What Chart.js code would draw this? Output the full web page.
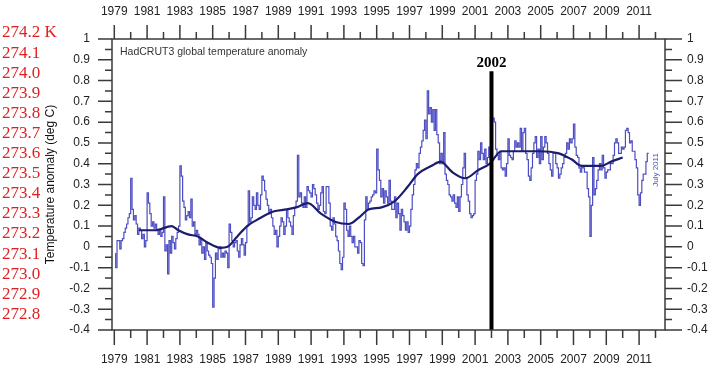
<!DOCTYPE html>
<html>
<head>
<meta charset="utf-8">
<script src="https://cdn.jsdelivr.net/npm/chart.js@4.4.1/dist/chart.umd.min.js"></script>
<style>
  html, body { margin: 0; padding: 0; background: #fff; }
  #wrap { position: relative; width: 714px; height: 372px; }
</style>
</head>
<body>
<div id="wrap"><canvas id="myChart" width="714" height="372"></canvas></div>
<script>
// monthly anomalies (deg C), Jan 1979 .. Jul 2011
const anomaly1979to1989 = [
  -0.03, -0.10, 0.03, 0.03, -0.01, 0.03, 0.04, 0.07, 0.09, 0.11, 0.14, 0.16,
  0.33, 0.18, 0.13, 0.15, 0.11, 0.06, 0.09, 0.08, 0.04, 0.06, 0.00, 0.03,
  0.26, 0.21, 0.16, 0.10, 0.12, 0.09, 0.11, 0.08, 0.06, 0.08, 0.05, 0.07,
  0.24, -0.02, 0.01, -0.13, 0.03, -0.03, 0.05, 0.02, -0.01, 0.04, 0.07, 0.10,
  0.39, 0.34, 0.22, 0.19, 0.13, 0.15, 0.17, 0.14, 0.23, 0.10, 0.12, 0.06,
  0.08, 0.06, 0.01, 0.04, -0.03, 0.00, -0.06, 0.02, -0.02, -0.04, -0.05, -0.08,
  -0.29, -0.15, -0.03, -0.06, -0.01, 0.00, -0.05, -0.03, -0.05, -0.02, -0.03, -0.10,
  0.11, 0.07, 0.03, 0.00, 0.02, 0.03, -0.02, -0.05, 0.01, 0.04, 0.01, -0.04,
  0.02, 0.10, 0.27, 0.12, 0.14, 0.24, 0.20, 0.18, 0.26, 0.20, 0.18, 0.25,
  0.34, 0.32, 0.27, 0.23, 0.20, 0.16, 0.18, 0.14, 0.10, 0.06, 0.08, 0.00,
  0.05, 0.10, 0.14, 0.12, 0.06, 0.10, 0.18, 0.14, 0.12, 0.10, 0.06, 0.15
]
const anomaly1990to2000 = [
  0.19, 0.22, 0.44, 0.24, 0.26, 0.21, 0.19, 0.24, 0.19, 0.29, 0.27, 0.26,
  0.24, 0.30, 0.28, 0.25, 0.21, 0.18, 0.20, 0.26, 0.29, 0.17, 0.16, 0.29,
  0.29, 0.21, 0.10, 0.08, 0.14, 0.11, 0.05, 0.03, -0.02, -0.08, -0.11, -0.05,
  0.21, 0.18, 0.08, 0.05, 0.10, 0.05, 0.02, 0.05, 0.00, 0.00, -0.03, 0.03,
  0.02, -0.08, -0.09, 0.13, 0.24, 0.18, 0.21, 0.22, 0.24, 0.25, 0.27, 0.26,
  0.47, 0.37, 0.32, 0.24, 0.28, 0.21, 0.27, 0.24, 0.21, 0.32, 0.22, 0.18,
  0.18, 0.24, 0.14, 0.21, 0.16, 0.08, 0.18, 0.15, 0.12, 0.08, 0.12, 0.07,
  0.10, 0.18, 0.25, 0.30, 0.37, 0.40, 0.38, 0.45, 0.48, 0.51, 0.56, 0.61,
  0.52, 0.75, 0.64, 0.67, 0.60, 0.66, 0.56, 0.66, 0.54, 0.50, 0.40, 0.45,
  0.40, 0.55, 0.35, 0.32, 0.30, 0.25, 0.24, 0.22, 0.25, 0.21, 0.19, 0.24,
  0.17, 0.24, 0.30, 0.38, 0.45, 0.33, 0.25, 0.22, 0.16, 0.14, 0.15, 0.16
]
const anomaly2001to2011 = [
  0.32, 0.35, 0.46, 0.42, 0.50, 0.45, 0.42, 0.47, 0.40, 0.43, 0.48, 0.42,
  0.61, 0.62, 0.60, 0.47, 0.44, 0.42, 0.46, 0.38, 0.37, 0.38, 0.34, 0.40,
  0.52, 0.44, 0.43, 0.42, 0.46, 0.51, 0.48, 0.50, 0.48, 0.57, 0.46, 0.55,
  0.57, 0.45, 0.42, 0.34, 0.32, 0.38, 0.45, 0.50, 0.53, 0.43, 0.47, 0.40,
  0.53, 0.42, 0.48, 0.53, 0.50, 0.45, 0.40, 0.37, 0.34, 0.45, 0.45, 0.40,
  0.38, 0.33, 0.35, 0.38, 0.40, 0.43, 0.45, 0.50, 0.47, 0.52, 0.50, 0.52,
  0.59, 0.48, 0.44, 0.43, 0.38, 0.36, 0.39, 0.38, 0.36, 0.36, 0.28, 0.24,
  0.05, 0.20, 0.43, 0.25, 0.28, 0.32, 0.37, 0.40, 0.37, 0.44, 0.38, 0.33,
  0.36, 0.37, 0.37, 0.40, 0.40, 0.44, 0.50, 0.52, 0.50, 0.45, 0.45, 0.48,
  0.47, 0.48, 0.56, 0.57, 0.55, 0.50, 0.51, 0.46, 0.46, 0.42, 0.38, 0.25,
  0.20, 0.26, 0.32, 0.35, 0.35, 0.41, 0.45
]

// smoothed curve, read at points along it
const smoothYears = [1980.5, 1981.5, 1982.5, 1982.9, 1983.5, 1984.1, 1984.7, 1985.5, 1985.9, 1986.5,
  1987.1, 1987.7, 1988.7, 1989.5, 1990.1, 1990.8, 1991.6, 1992.5, 1993.3, 1993.9,
  1994.5, 1995.3, 1996.1, 1996.9, 1997.5, 1998.35, 1998.9, 1999.6, 2000.4, 2001.2,
  2001.9, 2002.6, 2003.6, 2004.85, 2006.1, 2006.9, 2007.5, 2008.3, 2008.7, 2009.3, 2010.0]
const smoothValues = [0.08, 0.08, 0.10, 0.08, 0.06, 0.05, 0.02, -0.005, 0.0, 0.05,
  0.10, 0.13, 0.17, 0.18, 0.19, 0.21, 0.16, 0.12, 0.11, 0.14,
  0.18, 0.19, 0.22, 0.29, 0.35, 0.39, 0.41, 0.36, 0.33, 0.37,
  0.40, 0.46, 0.46, 0.46, 0.45, 0.42, 0.39, 0.39, 0.39, 0.41, 0.43]

const labelYears = [1979, 1981, 1983, 1985, 1987, 1989, 1991, 1993, 1995,
  1997, 1999, 2001, 2003, 2005, 2007, 2009, 2011]
const kelvinLabels = ['274.2 K', '274.1', '274.0', '273.9', '273.8', '273.7', '273.6', '273.5',
  '273.4', '273.3', '273.2', '273.1', '273.0', '272.9', '272.8']

const startYear = 1979
const markerYear = 2002
const markerTop = 0.845

const monthly = [...anomaly1979to1989, ...anomaly1990to2000, ...anomaly2001to2011]
  .map((v, i) => ({ x: startYear + (i + 1) / 12, y: v }))
const smooth = smoothYears.map((yr, i) => ({ x: yr, y: smoothValues[i] }))

const tickFont = { family: 'Liberation Sans, Arial, sans-serif', size: 12 }
const yearLabel = v => String(v)
const yLabel = v => String(Number(v.toFixed(1)))

const frame = {
  id: 'frame',
  afterDraw(chart) {
    const { ctx, chartArea: a, scales } = chart
    const x = scales.x, y = scales.y
    ctx.save()
    ctx.strokeStyle = '#3a3a3a'
    ctx.lineWidth = 1.5
    ctx.strokeRect(a.left, a.top, a.right - a.left, a.bottom - a.top)

    ctx.beginPath()
    const yt = y.ticks.map(t => t.value)
    yt.forEach((v, i) => {
      const p = y.getPixelForValue(v)
      ctx.moveTo(a.left - 14, p); ctx.lineTo(a.left, p)
      ctx.moveTo(a.right, p); ctx.lineTo(a.right + 17, p)
      if (i < yt.length - 1) {
        const m = y.getPixelForValue((v + yt[i + 1]) / 2)
        ctx.moveTo(a.left - 7, m); ctx.lineTo(a.left, m)
        ctx.moveTo(a.right, m); ctx.lineTo(a.right + 7, m)
      }
    })
    x.ticks.forEach(t => {
      const p = x.getPixelForValue(t.value)
      ctx.moveTo(p, a.top - 14); ctx.lineTo(p, a.top)
      ctx.moveTo(p, a.bottom); ctx.lineTo(p, a.bottom + 15)
      if (t.value + 1 <= x.max) {
        const m = x.getPixelForValue(t.value + 1)
        ctx.moveTo(m, a.top - 7); ctx.lineTo(m, a.top)
        ctx.moveTo(m, a.bottom); ctx.lineTo(m, a.bottom + 8)
      }
    })
    ctx.stroke()

    // caption inside the plot
    ctx.fillStyle = '#333'
    ctx.font = '10.5px Liberation Sans, Arial, sans-serif'
    ctx.textBaseline = 'middle'
    ctx.textAlign = 'left'
    ctx.fillText('HadCRUT3 global temperature anomaly', a.left + 8, a.top + 13)

    // 2002 label
    ctx.fillStyle = '#000'
    ctx.font = 'bold 15px Liberation Serif, Times New Roman, serif'
    ctx.textAlign = 'center'
    ctx.fillText(String(markerYear), x.getPixelForValue(markerYear), y.getPixelForValue(0.885))

    // July 2011 note
    ctx.save()
    ctx.translate(x.getPixelForValue(2012.0), y.getPixelForValue(0.37))
    ctx.rotate(-Math.PI / 2)
    ctx.fillStyle = '#4455bb'
    ctx.font = '8px Liberation Sans, Arial, sans-serif'
    ctx.fillText('July 2011', 0, 0)
    ctx.restore()

    // red kelvin column
    ctx.fillStyle = '#e02020'
    ctx.font = '17px Liberation Serif, Times New Roman, serif'
    ctx.textAlign = 'left'
    kelvinLabels.forEach((s, i) => ctx.fillText(s, 2, 33 + i * 20.1))
    ctx.restore()
  }
}

var ctx = document.getElementById('myChart').getContext('2d')
var myChart = new Chart(ctx, {
  type: 'line',
  data: {
    datasets: [
      {
        data: [{ x: markerYear, y: -0.4 }, { x: markerYear, y: markerTop }],
        borderColor: '#000',
        borderWidth: 4,
        pointRadius: 0
      },
      {
        data: smooth,
        borderColor: '#1c1c6e',
        borderWidth: 2.2,
        pointRadius: 0,
        cubicInterpolationMode: 'monotone'
      },
      {
        data: monthly,
        borderColor: '#4e4ec4',
        borderWidth: 1.2,
        pointRadius: 0,
        stepped: 'after'
      }
    ]
  },
  options: {
    responsive: false,
    animation: false,
    events: [],
    layout: { padding: 0 },
    plugins: { legend: { display: false }, tooltip: { enabled: false } },
    scales: {
      x: {
        type: 'linear', position: 'bottom', min: 1978.86, max: 2012.58,
        afterBuildTicks: s => { s.ticks = labelYears.map(v => ({ value: v })) },
        afterFit: s => { s.height = 42 },
        grid: { display: false, drawTicks: false },
        border: { display: false },
        ticks: { font: tickFont, color: '#222', padding: 22, maxRotation: 0, autoSkip: false, callback: yearLabel }
      },
      xTop: {
        type: 'linear', position: 'top', min: 1978.86, max: 2012.58,
        afterBuildTicks: s => { s.ticks = labelYears.map(v => ({ value: v })) },
        afterFit: s => { s.height = 39 },
        grid: { display: false, drawTicks: false },
        border: { display: false },
        ticks: { font: tickFont, color: '#222', padding: 20, maxRotation: 0, autoSkip: false, callback: yearLabel }
      },
      y: {
        position: 'left', min: -0.4, max: 1,
        afterFit: s => { s.width = 112 },
        grid: { display: false, drawTicks: false },
        border: { display: false },
        ticks: { font: tickFont, color: '#222', padding: 22, stepSize: 0.1, callback: yLabel },
        title: {
          display: true, text: 'Temperature anomaly (deg C)', color: '#111',
          font: { family: 'Liberation Sans, Arial, sans-serif', size: 12 },
          padding: { top: 43, bottom: 0 }
        }
      },
      yRight: {
        position: 'right', min: -0.4, max: 1,
        afterFit: s => { s.width = 49 },
        grid: { display: false, drawTicks: false },
        border: { display: false },
        ticks: { font: tickFont, color: '#222', padding: 22, stepSize: 0.1, callback: yLabel }
      }
    }
  },
  plugins: [frame]
})
</script>
</body>
</html>
